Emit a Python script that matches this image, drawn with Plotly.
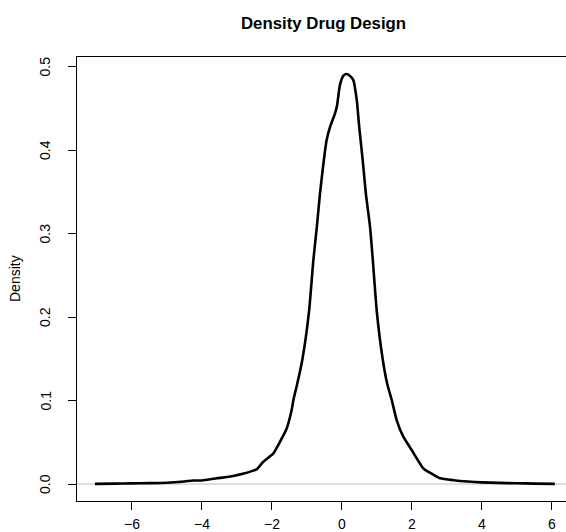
import plotly.graph_objects as go

# Density curve values
dens_x = [-7.05, -6.5, -6.0, -5.5, -5.0, -4.5, -4.24, -4.0, -3.57, -3.1, -2.8, -2.53, -2.43,
          -2.24, -1.95, -1.76, -1.57, -1.43, -1.38, -1.27, -1.12, -0.93, -0.81, -0.71, -0.62,
          -0.51, -0.43, -0.33, -0.19, -0.13, -0.05, 0.05, 0.14, 0.23, 0.33, 0.43, 0.50, 0.60,
          0.69, 0.81, 0.89, 1.0, 1.17, 1.3, 1.43, 1.57, 1.76, 2.0, 2.33, 2.52, 2.81, 3.2, 3.6,
          4.0, 4.5, 5.0, 5.5, 6.09]
dens_y = [0.0002, 0.0004, 0.0007, 0.0010, 0.0015, 0.0030, 0.0042, 0.0042, 0.0068, 0.0096,
          0.0125, 0.0160, 0.0175, 0.0267, 0.0367, 0.0507, 0.0667, 0.0886, 0.1006, 0.120, 0.150,
          0.208, 0.268, 0.308, 0.348, 0.388, 0.412, 0.428, 0.444, 0.454, 0.478, 0.489, 0.491,
          0.489, 0.484, 0.460, 0.428, 0.388, 0.348, 0.308, 0.268, 0.208, 0.150, 0.120, 0.1006,
          0.0766, 0.0567, 0.0407, 0.0188, 0.0135, 0.0068, 0.0045, 0.003, 0.002, 0.0013, 0.0009,
          0.0005, 0.0002]

x_ticks = [-6, -4, -2, 0, 2, 4, 6]
x_tick_labels = ["\u22126", "\u22124", "\u22122", "0", "2", "4", "6"]
y_ticks = [0.0, 0.1, 0.2, 0.3, 0.4, 0.5]
y_tick_labels = ["0.0", "0.1", "0.2", "0.3", "0.4", "0.5"]

title_text = "Density Drug Design"
ylabel_text = "Density"

FONT = "Liberation Sans, Arial, Helvetica, sans-serif"
FS = 14

fig = go.Figure()
fig.add_trace(go.Scatter(x=dens_x, y=dens_y, mode="lines",
                         line=dict(color="black", width=2.6, shape="spline", smoothing=0.5),
                         hoverinfo="skip"))

fig.add_shape(type="line", xref="paper", yref="y", x0=0, x1=1, y0=0, y1=0,
              line=dict(color="#bebebe", width=1), layer="below")

annotations = [
    dict(text="<b>" + title_text + "</b>", xref="paper", yref="paper",
         x=0.505, y=1, yshift=34, showarrow=False, xanchor="center", yanchor="middle",
         font=dict(family=FONT, size=16.8, color="black")),
    dict(text=ylabel_text, xref="paper", yref="paper", x=0, xshift=-62, y=0.5,
         textangle=-90, showarrow=False, xanchor="center", yanchor="middle",
         font=dict(family=FONT, size=FS, color="black")),
]
for v, lab in zip(x_ticks, x_tick_labels):
    annotations.append(dict(text=lab, xref="x", yref="paper", x=v, y=0, yshift=-23,
                            showarrow=False, xanchor="center", yanchor="middle",
                            font=dict(family=FONT, size=FS, color="black")))
for v, lab in zip(y_ticks, y_tick_labels):
    annotations.append(dict(text=lab, xref="paper", yref="y", x=0, y=v, xshift=-32,
                            textangle=-90, showarrow=False, xanchor="center",
                            yanchor="middle",
                            font=dict(family=FONT, size=FS, color="black")))

fig.update_layout(
    width=566, height=532,
    margin=dict(l=77, r=0, t=57, b=31),
    paper_bgcolor="white", plot_bgcolor="white",
    showlegend=False,
    font=dict(family=FONT, size=FS, color="black"),
    xaxis=dict(range=[-7.563, 6.409], tickvals=x_ticks, showticklabels=False,
               showgrid=False, zeroline=False,
               showline=True, linecolor="black", linewidth=1, mirror=True,
               ticks="outside", ticklen=8, tickcolor="black", tickwidth=1),
    yaxis=dict(range=[-0.02036, 0.5114], tickvals=y_ticks, showticklabels=False,
               showgrid=False, zeroline=False, showline=True, linecolor="black", linewidth=1,
               ticks="outside", ticklen=8, tickcolor="black", tickwidth=1),
    annotations=annotations,
)

fig.write_html("out.html", config={"displayModeBar": False},
               post_script="document.body.style.margin='0';document.body.style.overflow='hidden';")
